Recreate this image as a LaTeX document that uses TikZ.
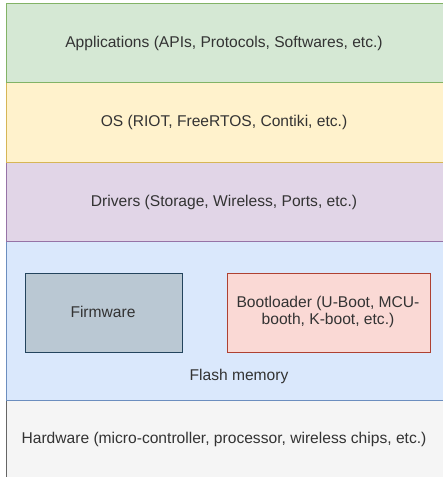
\documentclass[tikz,border=0pt]{standalone}
\usepackage{fontspec}
\setmainfont{Liberation Sans}
\definecolor{gfill}{HTML}{D5E8D4}\definecolor{gline}{HTML}{82B366}
\definecolor{yfill}{HTML}{FFF2CC}\definecolor{yline}{HTML}{D6B656}
\definecolor{pfill}{HTML}{E1D5E7}\definecolor{pline}{HTML}{9673A6}
\definecolor{bfill}{HTML}{DAE8FC}\definecolor{bline}{HTML}{6C8EBF}
\definecolor{hfill}{HTML}{F5F5F5}\definecolor{hline}{HTML}{666666}
\definecolor{ffill}{HTML}{BAC8D3}\definecolor{fline}{HTML}{23445D}
\definecolor{rfill}{HTML}{FAD9D5}\definecolor{rline}{HTML}{AE4132}
\definecolor{txt}{HTML}{333333}
\tikzset{
  band/.style={line width=0.9pt},
  lbl/.style={text=txt, font=\fontsize{15.6}{17}\selectfont, align=center, inner sep=0pt}
}
\begin{document}
\begin{tikzpicture}[x=1pt,y=-1pt]
\clip (0,0) rectangle (443,477);
\fill[white] (0,0) rectangle (443,477);
\draw[band, fill=hfill, draw=hline] (6,400) rectangle (446,490);
\draw[band, fill=bfill, draw=bline] (6,241) rectangle (446,400);
\draw[band, fill=pfill, draw=pline] (6,162) rectangle (446,241);
\draw[band, fill=yfill, draw=yline] (6,82) rectangle (446,162);
\draw[band, fill=gfill, draw=gline] (6,3) rectangle (446,82);
\draw[band, fill=ffill, draw=fline] (25,273) rectangle (182,352);
\draw[band, fill=rfill, draw=rline] (227,273) rectangle (430,352);
\node[lbl] (app) at (224,43) {Applications (APIs, Protocols, Softwares, etc.)};
\node[lbl] (os) at (224,122) {OS (RIOT, FreeRTOS, Contiki, etc.)};
\node[lbl] (drv) at (224,202) {Drivers (Storage, Wireless, Ports, etc.)};
\node[lbl] (fw) at (103,312) {Firmware};
\node[lbl, align=center] (bl) at (328,312) {Bootloader (U-Boot, MCU-\\booth, K-boot, etc.)};
\node[lbl] (flash) at (239,376) {Flash memory};
\node[lbl] (hw) at (224,439) {Hardware (micro-controller, processor, wireless chips, etc.)};
\end{tikzpicture}
\end{document}
